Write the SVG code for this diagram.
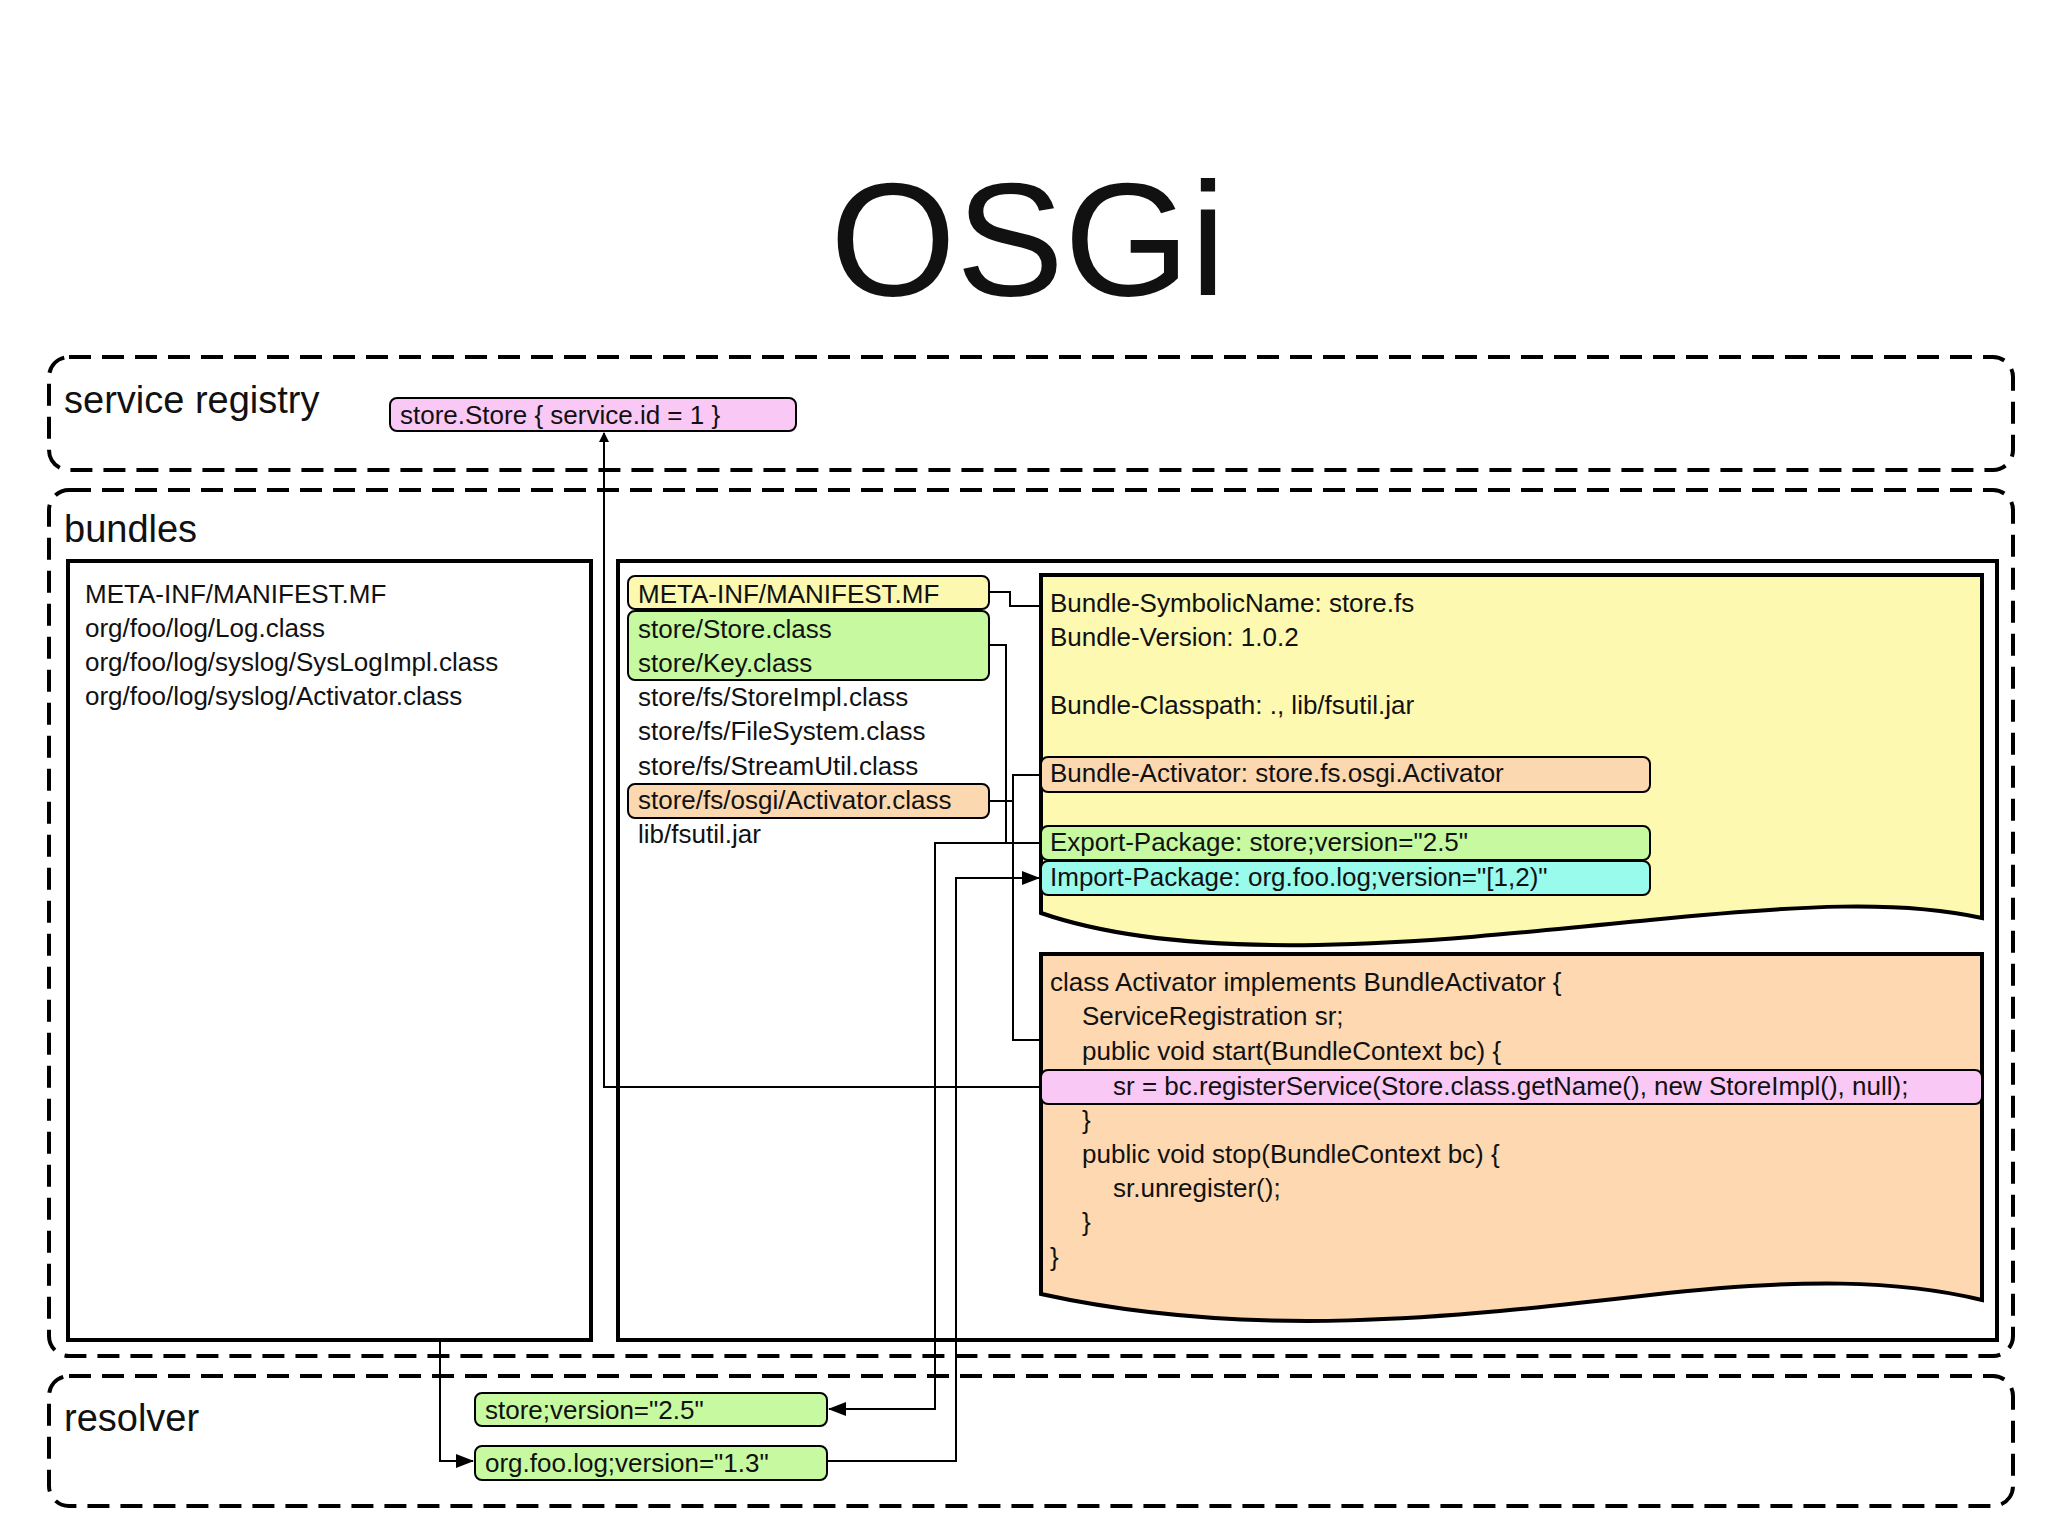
<svg xmlns="http://www.w3.org/2000/svg" width="2048" height="1536" viewBox="0 0 2048 1536">
<style>
text{font-family:"Liberation Sans",Arial,sans-serif;font-size:26px;fill:#111}
.lbl{font-size:38px}
.dash{fill:none;stroke:#000;stroke-width:4;stroke-dasharray:22 11}
.box{fill:#fff;stroke:#000;stroke-width:4}
.tag{stroke:#000;stroke-width:2}
.c{fill:none;stroke:#000;stroke-width:2}
</style>
<defs><marker id="a" markerWidth="10" markerHeight="10" refX="9" refY="5" orient="auto" markerUnits="userSpaceOnUse"><path d="M0,0L10,5L0,10Z"/></marker>
<marker id="b" markerWidth="18" markerHeight="18" refX="17" refY="7" orient="auto" markerUnits="userSpaceOnUse"><path d="M0,0L18,7L0,14Z"/></marker></defs>
<rect width="2048" height="1536" fill="#fff"/>
<text x="1028" y="295" text-anchor="middle" style="font-size:162px">OSGi</text>
<g id="registry"><rect class="dash" x="49" y="357" width="1964" height="113" rx="20"/><text class="lbl" x="64" y="413">service registry</text>
<rect class="tag" x="390" y="398" width="406" height="33" rx="7" fill="#f9c8f5"/><text x="400" y="424">store.Store { service.id = 1 }</text></g>
<g id="bundles"><rect class="dash" x="49" y="490" width="1964" height="866" rx="20"/><text class="lbl" x="64" y="542">bundles</text></g>
<g id="bundle1"><rect class="box" x="68" y="561" width="523" height="779"/>
<text x="85" y="603">META-INF/MANIFEST.MF</text><text x="85" y="637">org/foo/log/Log.class</text><text x="85" y="671">org/foo/log/syslog/SysLogImpl.class</text><text x="85" y="705">org/foo/log/syslog/Activator.class</text></g>
<g id="bundle2"><rect class="box" x="618" y="561" width="1379" height="779"/>
<rect class="tag" x="628" y="576" width="361" height="33" rx="7" fill="#fdf8b0"/>
<rect class="tag" x="628" y="611" width="361" height="69" rx="7" fill="#c6f9a0"/>
<rect class="tag" x="628" y="784" width="361" height="34" rx="7" fill="#fcd8b0"/>
<text x="638" y="603">META-INF/MANIFEST.MF</text><text x="638" y="638">store/Store.class</text><text x="638" y="672">store/Key.class</text><text x="638" y="706">store/fs/StoreImpl.class</text><text x="638" y="740">store/fs/FileSystem.class</text><text x="638" y="775">store/fs/StreamUtil.class</text><text x="638" y="809">store/fs/osgi/Activator.class</text><text x="638" y="843">lib/fsutil.jar</text></g>
<g id="manifest"><path d="M1041,575H1982V918C1900,900 1800,905 1650,920C1450,940 1200,968 1041,913Z" fill="#fdf9b0" stroke="#000" stroke-width="4"/>
<text x="1050" y="612">Bundle-SymbolicName: store.fs</text><text x="1050" y="646">Bundle-Version: 1.0.2</text><text x="1050" y="714">Bundle-Classpath: ., lib/fsutil.jar</text>
<rect class="tag" x="1041" y="757" width="609" height="35" rx="7" fill="#fcd8b0"/><text x="1050" y="782">Bundle-Activator: store.fs.osgi.Activator</text>
<rect class="tag" x="1041" y="826" width="609" height="34" rx="7" fill="#c6f9a0"/><text x="1050" y="851">Export-Package: store;version="2.5"</text>
<rect class="tag" x="1041" y="861" width="609" height="34" rx="7" fill="#98fbec"/><text x="1050" y="886">Import-Package: org.foo.log;version="[1,2)"</text></g>
<g id="code"><path d="M1041,954H1982V1300C1900,1280 1800,1278 1650,1295C1450,1318 1250,1340 1041,1294Z" fill="#fdd8b0" stroke="#000" stroke-width="4"/>
<rect class="tag" x="1041" y="1070" width="941" height="34" rx="7" fill="#f9c8f5"/>
<text x="1050" y="991">class Activator implements BundleActivator {</text><text x="1082" y="1025">ServiceRegistration sr;</text><text x="1082" y="1060">public void start(BundleContext bc) {</text><text x="1113" y="1095">sr = bc.registerService(Store.class.getName(), new StoreImpl(), null);</text><text x="1082" y="1129">}</text><text x="1082" y="1163">public void stop(BundleContext bc) {</text><text x="1113" y="1197">sr.unregister();</text><text x="1082" y="1231">}</text><text x="1050" y="1266">}</text></g>
<g id="resolver"><rect class="dash" x="49" y="1376" width="1964" height="130" rx="20"/><text class="lbl" x="64" y="1431">resolver</text>
<rect class="tag" x="475" y="1393" width="352" height="33" rx="7" fill="#c6f9a0"/><text x="485" y="1419">store;version="2.5"</text>
<rect class="tag" x="475" y="1446" width="352" height="34" rx="7" fill="#c6f9a0"/><text x="485" y="1472">org.foo.log;version="1.3"</text></g>
<g id="connectors">
<path class="c" d="M1041,1087H604V433" marker-end="url(#a)"/>
<path class="c" d="M989,592H1010V606H1041"/>
<path class="c" d="M989,645H1006V843H1041"/>
<path class="c" d="M989,801H1013M1041,775H1013V1040H1041"/>
<path class="c" d="M1041,843H935V1409H829" marker-end="url(#b)"/>
<path class="c" d="M827,1461H956V878H1039" marker-end="url(#b)"/>
<path class="c" d="M440,1340V1461H473" marker-end="url(#b)"/>
</g>
</svg>
